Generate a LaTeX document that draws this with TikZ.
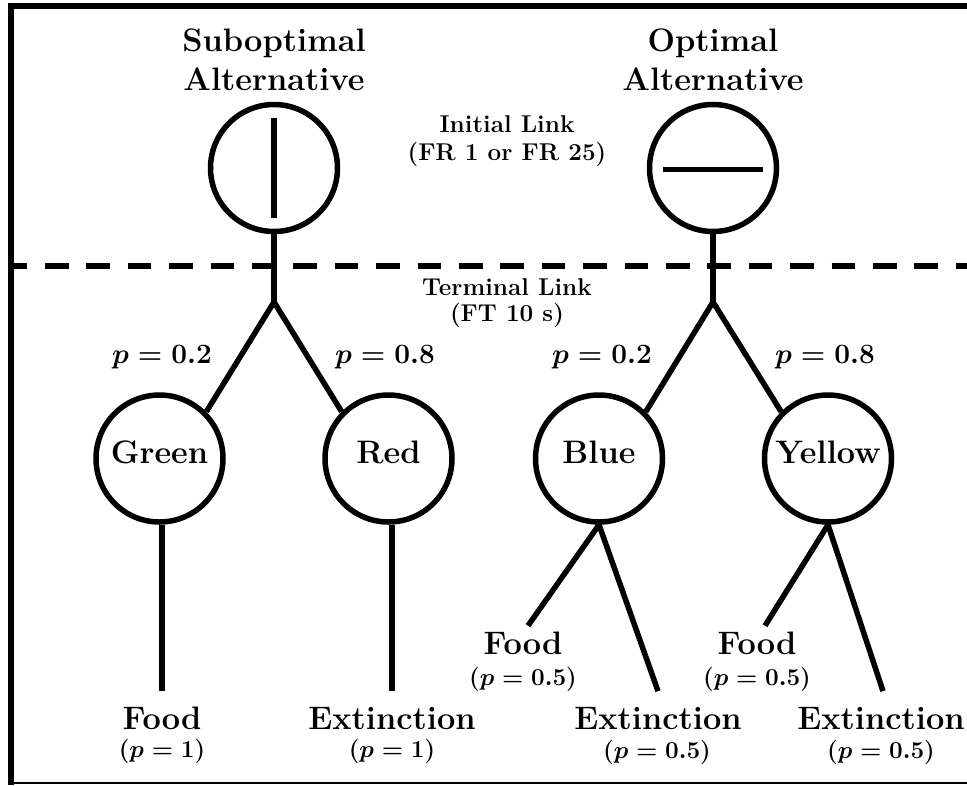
\RequirePackage{fix-cm}
\documentclass[tikz,border=0pt]{standalone}
\newcommand\figbig{\fontsize{32.5}{38}\selectfont\bfseries\boldmath}
\newcommand\figmid{\fontsize{28}{34}\selectfont\bfseries\boldmath}
\newcommand\figsmall{\fontsize{24.3}{29}\selectfont\bfseries\boldmath}
\begin{document}
\begin{tikzpicture}[x=1pt,y=-1pt,line width=5.5pt,
  state/.style={circle,draw,minimum size=127pt,inner sep=0pt,font=\figbig,
    text height=22.6pt,text depth=13.4pt},
  bigtxt/.style={inner sep=0pt,anchor=base,font=\figbig},
  midtxt/.style={inner sep=0pt,anchor=base,font=\figmid},
  smalltxt/.style={inner sep=0pt,anchor=base,font=\figsmall},
  linkline/.style={line width=6pt,dash pattern=on 23.5pt off 17.9pt,dash phase=10.4pt}]
\useasboundingbox (0,0) rectangle (967,785);
% frame
\draw[line width=6pt] (11,785) -- (11,5.5) -- (967,5.5);
\draw[line width=2pt] (8,783) -- (967,783);
% dashed separator
\coordinate (dl) at (14,266);
\coordinate (dr) at (967,266);
\draw[linkline] (dl) -- (dr);
% titles
\node[bigtxt] (subA) at (274,51) {Suboptimal};
\node[bigtxt] (subB) at (274,90) {Alternative};
\node[bigtxt] (optA) at (713,51) {Optimal};
\node[bigtxt] (optB) at (713,90) {Alternative};
\node[smalltxt] (ini1) at (507,132) {Initial Link};
\node[smalltxt] (ini2) at (507,160) {(FR 1 or FR 25)};
\node[smalltxt] (ter1) at (507,295) {Terminal Link};
\node[smalltxt] (ter2) at (507,321) {(FT 10 s)};
% initial link keys
\node[state] (sub) at (274,168) {};
\node[state] (opt) at (713,168) {};
\draw (sub.center) ++(0,-50) -- ++(0,100);
\draw (opt.center) ++(-50,1.5) -- ++(100,0);
% terminal link keys
\node[state] (green) at (159.5,458.5) {Green};
\node[state] (red) at (388.5,458.5) {Red};
\node[state] (blue) at (599,458.5) {Blue};
\node[state] (yellow) at (828,458.5) {Yellow};
\coordinate (jS) at (274,302);
\coordinate (jO) at (713,302);
\draw (sub.south) -- (jS);
\draw (opt.south) -- (jO);
\draw (jS) -- (green.north east);
\draw (jS) -- (red.north west);
\draw (jO) -- (blue.north east);
\draw (jO) -- (yellow.north west);
% probabilities
\node[midtxt] (pS1) at (162,363) {$p = 0.2$};
\node[midtxt] (pS2) at (385,363) {$p = 0.8$};
\node[midtxt] (pO1) at (602,363) {$p = 0.2$};
\node[midtxt] (pO2) at (825,363) {$p = 0.8$};
% outcomes
\node[bigtxt] (foodG) at (162,729) {Food};
\node[smalltxt] (pG) at (162,757) {$(p = 1)$};
\node[bigtxt] (extR) at (392,729) {Extinction};
\node[smalltxt] (pR) at (392,757) {$(p = 1)$};
\node[bigtxt] (foodB) at (523,654) {Food};
\node[smalltxt] (pB1) at (523,685) {$(p = 0.5)$};
\node[bigtxt] (extB) at (658,729) {Extinction};
\node[smalltxt] (pB2) at (657,758) {$(p = 0.5)$};
\node[bigtxt] (foodY) at (757,654) {Food};
\node[smalltxt] (pY1) at (757,685) {$(p = 0.5)$};
\node[bigtxt] (extY) at (881,729) {Extinction};
\node[smalltxt] (pY2) at (881,758) {$(p = 0.5)$};
% outcome links
\draw (green.south -| foodG.north) -- ([yshift=13pt]foodG.north);
\draw (red.south -| extR.north) -- ([yshift=13pt]extR.north);
\draw (blue.south) -- ([xshift=5pt,yshift=3pt]foodB.north);
\draw (blue.south) -- ([yshift=13pt]extB.north);
\draw (yellow.south) -- ([xshift=8pt,yshift=3pt]foodY.north);
\draw (yellow.south) -- ([xshift=2pt,yshift=13pt]extY.north);
\end{tikzpicture}
\end{document}
